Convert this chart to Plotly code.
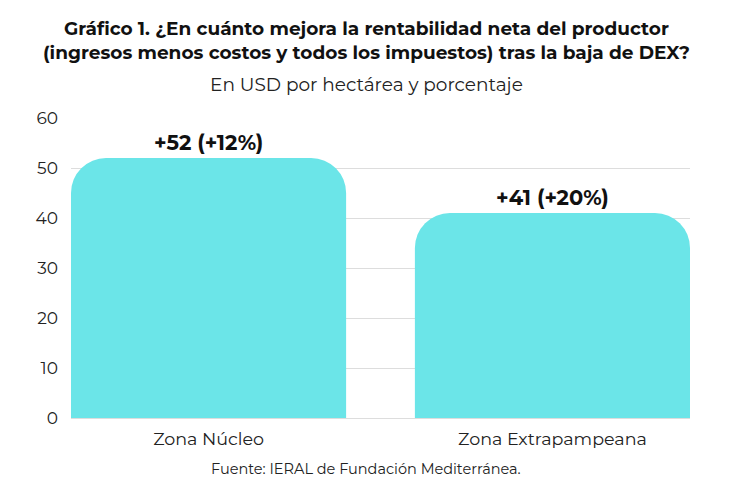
import plotly.graph_objects as go

categories = ["Zona Núcleo", "Zona Extrapampeana"]
values = [52, 41]
labels = ["+52 (+12%)", "+41 (+20%)"]
y_ticks = [0, 10, 20, 30, 40, 50, 60]

title_l1 = "Gráfico 1. ¿En cuánto mejora la rentabilidad neta del productor"
title_l2 = "(ingresos menos costos y todos los impuestos) tras la baja de DEX?"
subtitle = "En USD por hectárea y porcentaje"
source = "Fuente: IERAL de Fundación Mediterránea."

FONT = "Montserrat, Open Sans, sans-serif"
OFF = 8  # page body margin
W, H = 730 - OFF, 486 - OFF
ML, MT = 71 - OFF, 118 - OFF
PW, PH = 619, 300
MR = W - ML - PW
MB = H - MT - PH

def px_x(x):
    return (x - OFF - ML) / PW

def px_y(y):
    return (MT + PH - (y - OFF)) / PH

fig = go.Figure(go.Bar(
    x=categories, y=values, width=0.8,
    marker=dict(color="#6BE5E8", line=dict(width=0)),
    text=labels, textposition="outside", cliponaxis=False,
    textfont=dict(family=FONT, size=21, color="#111111", weight="bold"),
    hoverinfo="skip",
))

fig.update_layout(
    width=W, height=H,
    margin=dict(l=ML, r=MR, t=MT, b=MB),
    paper_bgcolor="white", plot_bgcolor="white",
    barcornerradius=35,
    showlegend=False,
    font=dict(family=FONT, color="#222222"),
    xaxis=dict(range=[-0.4, 1.4], showgrid=False, zeroline=False, showline=False,
               ticks="", ticklabelstandoff=8, tickfont=dict(size=17.5, color="#222222")),
    yaxis=dict(range=[0, 60], tickvals=y_ticks, showgrid=True, gridcolor="#DDDDDD",
               gridwidth=1, zeroline=True, zerolinecolor="#DDDDDD", zerolinewidth=1,
               showline=False, ticks="", ticklabelstandoff=12,
               tickfont=dict(size=17, color="#222222")),
    annotations=[
        dict(text="<b>" + title_l1 + "<br>" + title_l2 + "</b>", x=px_x(366), y=px_y(40),
             xref="paper", yref="paper", showarrow=False, align="center",
             font=dict(size=18.5, color="#111111", family=FONT), xanchor="center", yanchor="middle"),
        dict(text=subtitle, x=px_x(366), y=px_y(84), xref="paper", yref="paper",
             showarrow=False, font=dict(size=18.5, color="#222222", family=FONT), xanchor="center", yanchor="middle"),
        dict(text=source, x=px_x(366), y=px_y(469), xref="paper", yref="paper",
             showarrow=False, font=dict(size=14.5, color="#222222", family=FONT), xanchor="center", yanchor="middle"),
    ],
)

fig.write_html("out.html")
